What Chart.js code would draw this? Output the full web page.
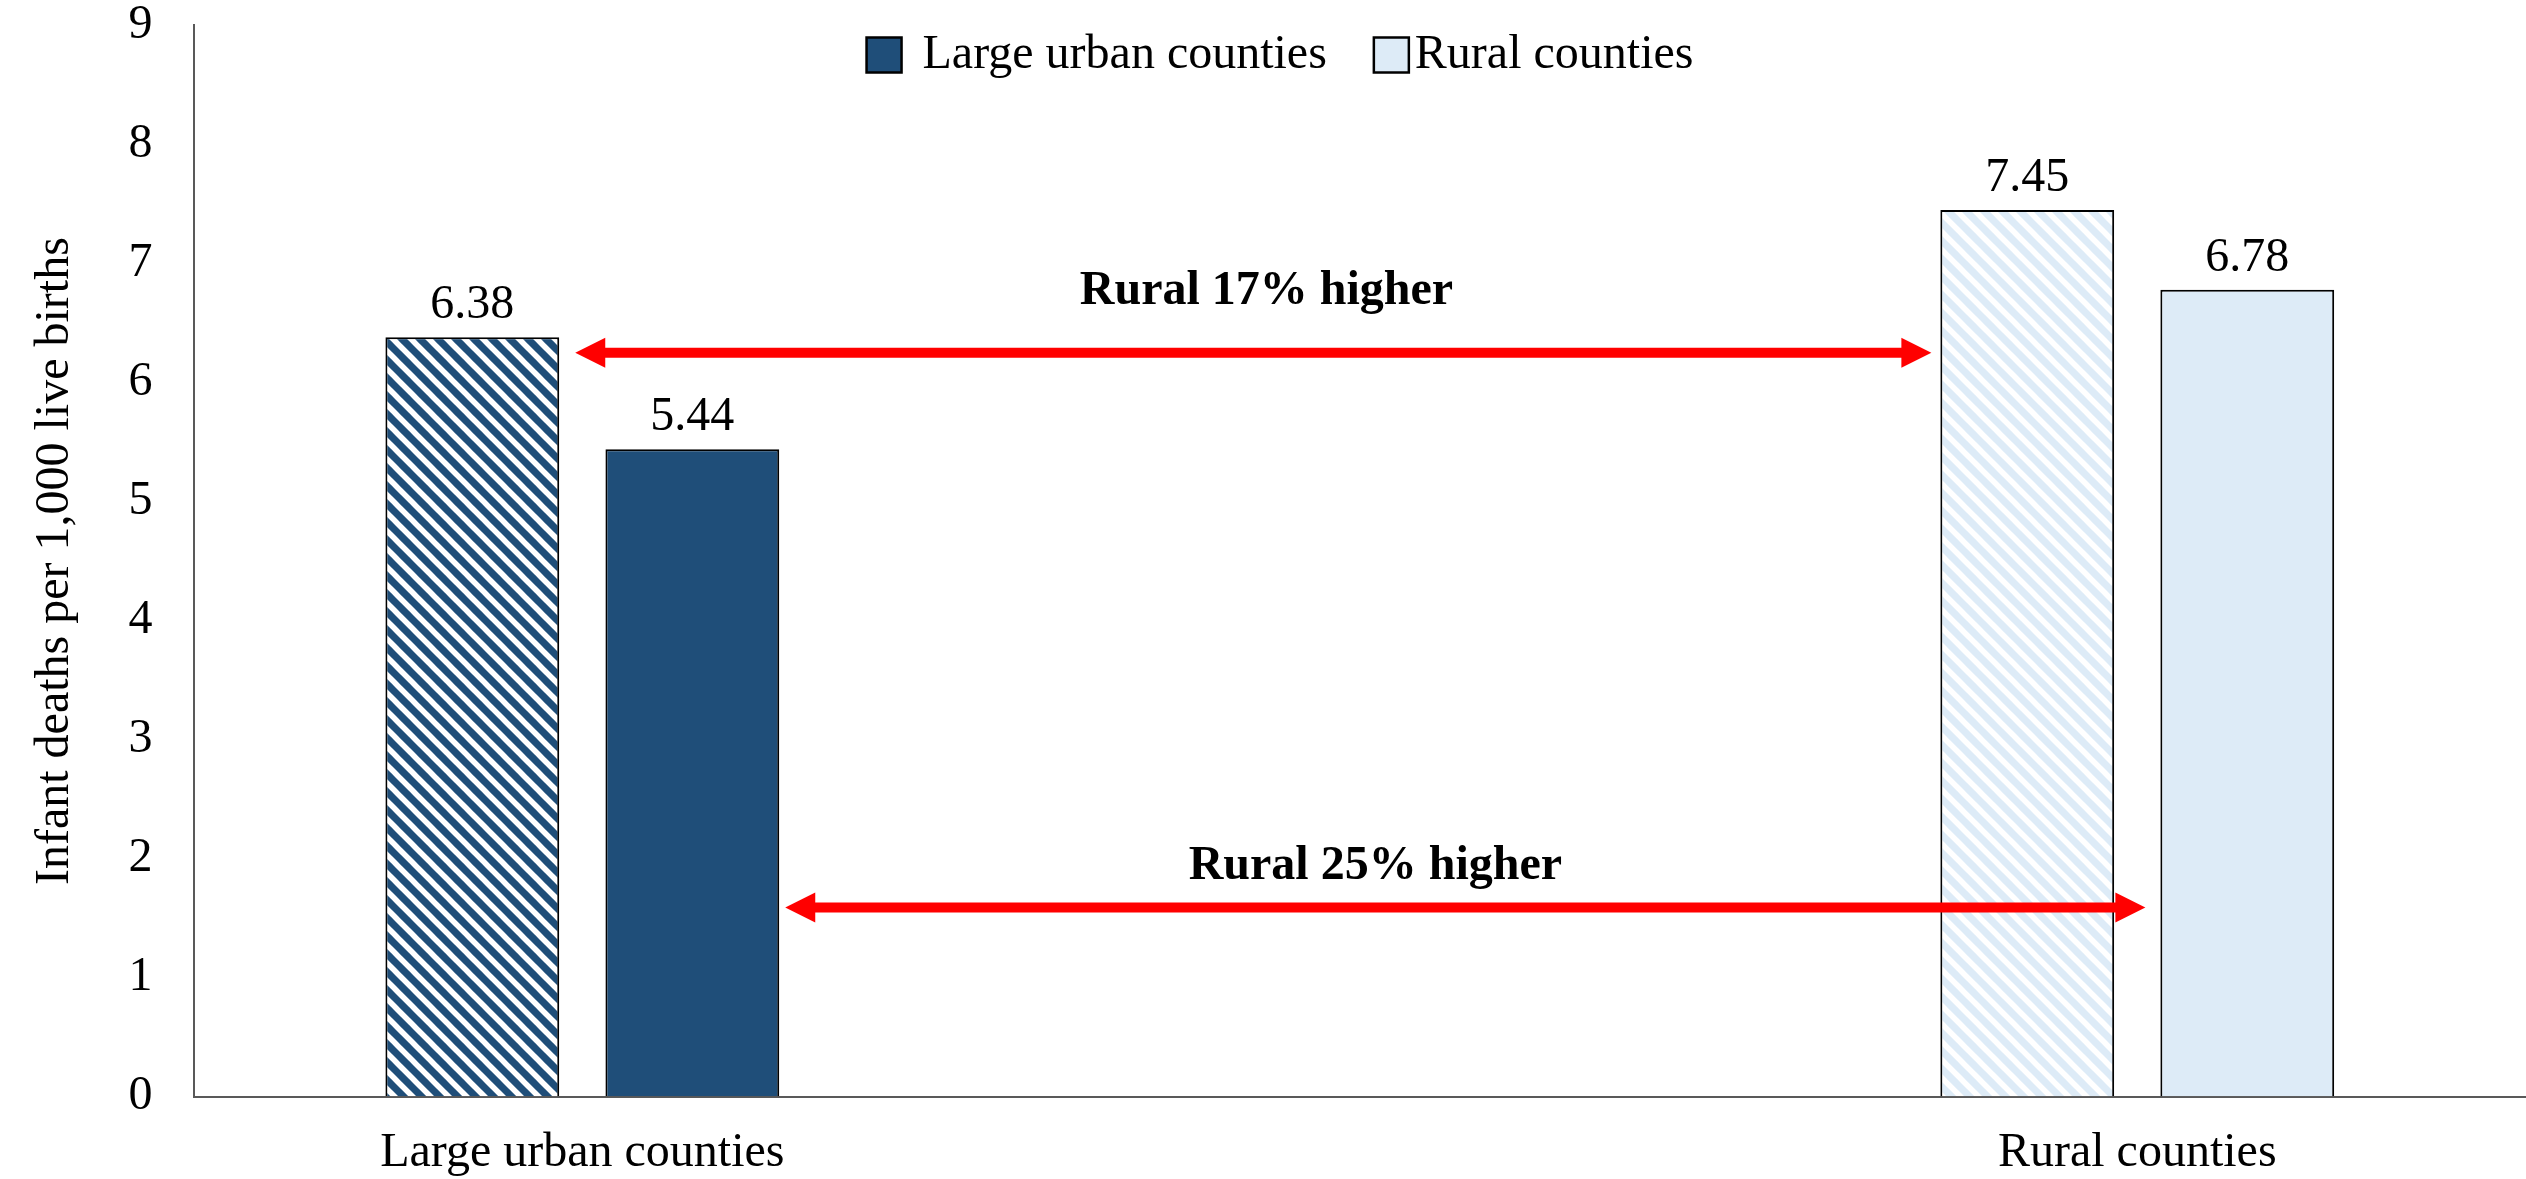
<!DOCTYPE html>
<html lang="en">
  <script src="https://cdnjs.cloudflare.com/ajax/libs/Chart.js/4.4.1/chart.umd.min.js"></script>
  <head>
    <meta charset="UTF-8" />
    <meta name="viewport" content="width=device-width, initial-scale=1.0" />
    <title>Infant mortality: large urban vs rural counties</title>
    <style>
      html, body { margin: 0; padding: 0; background: #fff; }
    </style>
  </head>
  <body>
    <canvas id="mortalityChart" width="2526" height="1179"></canvas>
    <script>
      var categories = ["Large urban counties", "Rural counties"];
      var stripedValues = [6.38, 7.45];
      var solidValues = [5.44, 6.78];
      var legendLabels = ["Large urban counties", "Rural counties"];
      var barColors = ["#1F4E79", "#DDEBF7"];
      var yTicks = [0, 1, 2, 3, 4, 5, 6, 7, 8, 9];

      Chart.defaults.font.family = "'Liberation Serif', 'Times New Roman', serif";
      Chart.defaults.color = "#000";

      // diagonal white stripes over a base colour
      function stripes(color) {
        var p = 18;
        var tile = document.createElement("canvas");
        tile.width = p;
        tile.height = p;
        var c = tile.getContext("2d");
        c.fillStyle = color;
        c.fillRect(0, 0, p, p);
        c.strokeStyle = "#fff";
        c.lineWidth = 5.5;
        [-p, 0, p].forEach(function (k) {
          c.beginPath();
          c.moveTo(k - 2, -2);
          c.lineTo(k + p + 2, p + 2);
          c.stroke();
        });
        return c.createPattern(tile, "repeat");
      }

      function points(values) {
        return values.map(function (v, i) { return { x: i, y: v }; });
      }

      // legend drawn inside the plot, near the top, centred on the canvas
      var legendRow = {
        id: "legendRow",
        afterDraw: function (chart) {
          var ctx = chart.ctx;
          var box = 35, textGap = [21, 6], itemGap = 47, cy = 55;
          ctx.save();
          ctx.font = "48px 'Liberation Serif'";
          var widths = legendLabels.map(function (t) { return ctx.measureText(t).width; });
          var total = 0;
          widths.forEach(function (w, i) { total += box + textGap[i] + w + (i ? itemGap : 0); });
          var x = chart.width / 2 + 17 - total / 2;
          ctx.textAlign = "left";
          ctx.textBaseline = "middle";
          legendLabels.forEach(function (t, i) {
            ctx.fillStyle = barColors[i];
            ctx.fillRect(x, cy - box / 2, box, box);
            ctx.strokeStyle = "#000";
            ctx.lineWidth = 2.5;
            ctx.strokeRect(x, cy - box / 2, box, box);
            ctx.fillStyle = "#000";
            ctx.fillText(t, x + box + textGap[i], cy);
            x += box + textGap[i] + widths[i] + itemGap;
          });
          ctx.restore();
        }
      };

      var valueLabels = {
        id: "valueLabels",
        afterDatasetsDraw: function (chart) {
          var ctx = chart.ctx;
          ctx.save();
          ctx.font = "48px 'Liberation Serif'";
          ctx.fillStyle = "#000";
          ctx.textAlign = "center";
          ctx.textBaseline = "alphabetic";
          chart.data.datasets.forEach(function (ds, i) {
            chart.getDatasetMeta(i).data.forEach(function (bar, j) {
              ctx.fillText(ds.data[j].y.toFixed(2), bar.x, bar.y - 19);
            });
          });
          ctx.restore();
        }
      };

      function arrow(ctx, x1, x2, y) {
        var head = 30, half = 15;
        ctx.fillStyle = "#FF0000";
        ctx.strokeStyle = "#FF0000";
        ctx.lineWidth = 10;
        ctx.beginPath();
        ctx.moveTo(x1 + head - 1, y);
        ctx.lineTo(x2 - head + 1, y);
        ctx.stroke();
        ctx.beginPath();
        ctx.moveTo(x1, y);
        ctx.lineTo(x1 + head, y - half);
        ctx.lineTo(x1 + head, y + half);
        ctx.closePath();
        ctx.fill();
        ctx.beginPath();
        ctx.moveTo(x2, y);
        ctx.lineTo(x2 - head, y - half);
        ctx.lineTo(x2 - head, y + half);
        ctx.closePath();
        ctx.fill();
      }

      // rural vs urban gap, one arrow per bar pair
      var gaps = [
        { dataset: 0, arrowY: 6.25, textX: 0.44, textY: 6.76, padStart: 16, padEnd: 9 },
        { dataset: 1, arrowY: 1.59, textX: 0.51, textY: 1.93, padStart: 6, padEnd: 15 }
      ];

      var gapArrows = {
        id: "gapArrows",
        afterDatasetsDraw: function (chart) {
          var ctx = chart.ctx;
          var xs = chart.scales.x, ys = chart.scales.y;
          ctx.save();
          gaps.forEach(function (g) {
            var bars = chart.getDatasetMeta(g.dataset).data;
            var vals = chart.data.datasets[g.dataset].data;
            var x1 = bars[0].x + bars[0].width / 2 + g.padStart;
            var x2 = bars[1].x - bars[1].width / 2 - g.padEnd;
            arrow(ctx, x1, x2, ys.getPixelForValue(g.arrowY));
            var pct = Math.round((vals[1].y / vals[0].y - 1) * 100);
            ctx.font = "bold 48px 'Liberation Serif'";
            ctx.fillStyle = "#000";
            ctx.textAlign = "center";
            ctx.textBaseline = "middle";
            ctx.fillText("Rural " + pct + "% higher", xs.getPixelForValue(g.textX), ys.getPixelForValue(g.textY));
          });
          ctx.restore();
        }
      };

      // no visible grid or tick marks; the transparent tick length keeps labels off the axis
      function hiddenGrid(len) {
        return { display: true, drawOnChartArea: false, drawTicks: true, tickLength: len, tickColor: "rgba(0,0,0,0)" };
      }

      new Chart("mortalityChart", {
        type: "bar",
        data: {
          datasets: [
            {
              label: "striped",
              data: points(stripedValues),
              backgroundColor: barColors.map(stripes),
              borderColor: "#000",
              borderWidth: 2
            },
            {
              label: "solid",
              data: points(solidValues),
              backgroundColor: barColors,
              borderColor: "#000",
              borderWidth: 2
            }
          ]
        },
        options: {
          responsive: false,
          animation: false,
          datasets: { bar: { categoryPercentage: 0.283, barPercentage: 0.79 } },
          layout: { padding: 0 },
          plugins: {
            tooltip: { enabled: false },
            legend: { display: false }
          },
          scales: {
            x: {
              type: "linear",
              min: -0.25,
              max: 1.25,
              offset: false,
              grid: hiddenGrid(31),
              border: { color: "#595959", width: 2 },
              afterBuildTicks: function (scale) {
                scale.ticks = categories.map(function (c, i) { return { value: i }; });
              },
              ticks: {
                autoSkip: false,
                maxRotation: 0,
                padding: 4,
                font: { size: 48, lineHeight: 0.9 },
                callback: function (v) { return categories[v]; }
              }
            },
            y: {
              min: yTicks[0],
              max: yTicks[yTicks.length - 1],
              grid: hiddenGrid(36),
              border: { color: "#595959", width: 2 },
              ticks: { stepSize: 1, padding: 5, font: { size: 48, lineHeight: 0.85 } },
              title: {
                display: true,
                text: "Infant deaths per 1,000 live births",
                font: { size: 48 },
                padding: { top: 27, bottom: 39 }
              }
            }
          }
        },
        plugins: [legendRow, valueLabels, gapArrows]
      });
    </script>
  </body>
</html>
